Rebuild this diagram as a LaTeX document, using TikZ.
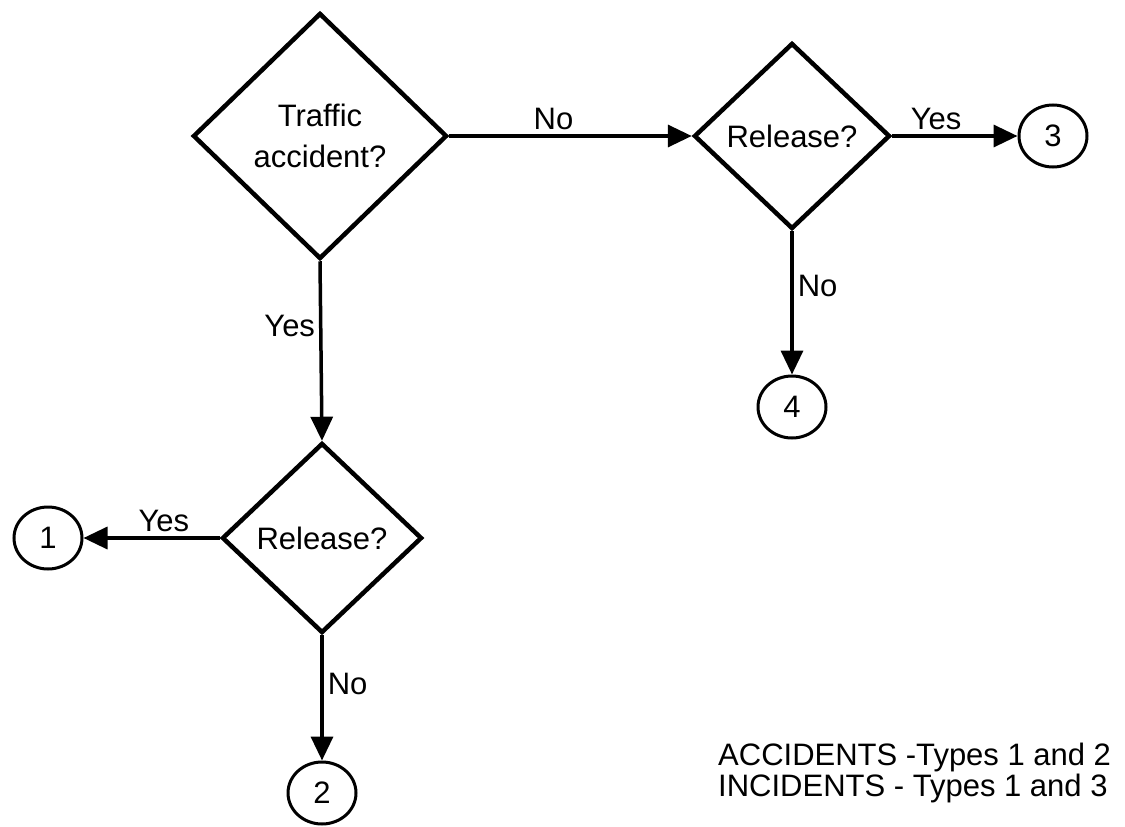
\documentclass[tikz,border=0pt]{standalone}
\usepackage{fontspec}
\setmainfont{Liberation Sans}
\usetikzlibrary{shapes.geometric,arrows.meta}
\begin{document}
\begin{tikzpicture}[x=1pt,y=-1pt,
  every node/.style={font=\fontsize{31}{31}\selectfont},
  dec/.style={diamond, draw, line width=4.5pt, inner sep=0pt, align=center},
  term/.style={ellipse, draw, line width=3pt, minimum width=68pt, minimum height=62pt, inner sep=0pt},
  conn/.style={line width=3.5pt, -{Triangle[length=24pt,width=22pt]}},
  lbl/.style={inner sep=4pt}]
\useasboundingbox (0,0) rectangle (1125,827);
% decisions
\node[dec, minimum width=254pt, minimum height=246pt, font=\fontsize{31}{41}\selectfont] (d1) at (320,136) {Traffic\\accident?};
\node[dec, minimum width=196pt, minimum height=186pt] (d2) at (792,136) {Release?};
\node[dec, minimum width=200pt, minimum height=190pt] (d3) at (322,538) {Release?};
% terminals
\node[term] (c1) at (48,538) {1};
\node[term] (c2) at (322,793) {2};
\node[term] (c3) at (1053,136) {3};
\node[term] (c4) at (792,407) {4};
% connectors
\draw[conn] (d1.east) -- node[lbl, above, pos=0.43] {No} (d2.west);
\draw[conn] (d1.south) -- node[lbl, left, pos=0.36] {Yes} (d3.north);
\draw[conn] (d2.east) -- node[lbl, above, pos=0.35] {Yes} (c3.west);
\draw[conn] (d2.south) -- node[lbl, right, pos=0.38] {No} (c4.north);
\draw[conn] (d3.west) -- node[lbl, above, pos=0.41] {Yes} (c1.east);
\draw[conn] (d3.south) -- node[lbl, right, pos=0.39] {No} (c2.north);
% legend
\node[anchor=west, align=left, inner sep=0pt] (legend) at (718,773) {ACCIDENTS -Types 1 and 2\\INCIDENTS - Types 1 and 3};
\end{tikzpicture}
\end{document}
